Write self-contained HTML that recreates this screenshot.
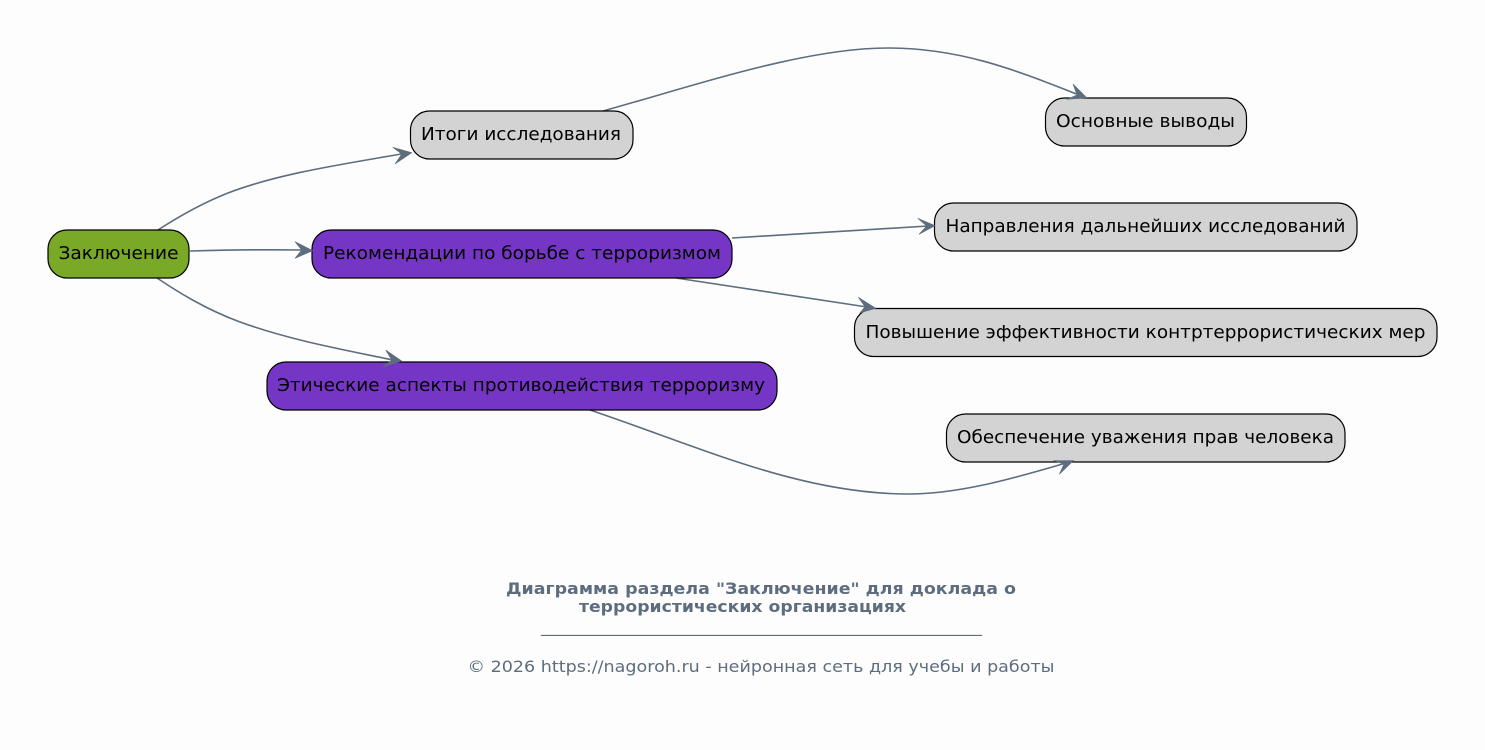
<!DOCTYPE html>
<html><head><meta charset="utf-8"><style>
html,body{margin:0;padding:0;background:#fdfdfd}
svg{display:block}
text{font-family:"DejaVu Sans",sans-serif}
.n{font-size:18px;fill:#000;text-anchor:middle}
.e{fill:none;stroke:#5d6d7e;stroke-width:1.6}
.a{fill:#5d6d7e;stroke:#5d6d7e;stroke-width:.6;stroke-linejoin:miter}
.b{stroke:#000;stroke-width:1.2}
</style></head><body>
<svg width="1485" height="750" viewBox="0 0 1485 750" xmlns="http://www.w3.org/2000/svg">
<rect width="1485" height="750" fill="#fdfdfd"/>
<path class="e" d="M158 230C178 217 200 204 228 193C280 173 345 164 404 153.500"/>
<path class="e" d="M190 251C225 250 265 249.500 304 250"/>
<path class="e" d="M157 278C178 292 205 309 240 322C290 340 340 349 393 360"/>
<path class="e" d="M603 111C700 84 805 48 888 48C963 48 1020 72 1079 95"/>
<path class="e" d="M732 238L928 226"/>
<path class="e" d="M676 278L867 307"/>
<path class="e" d="M590 410C700 447 800 494 908 494C960 494 1015 478 1066 463"/>
<rect class="b" x="48" y="230" width="141" height="48" rx="19" fill="#7aa928"/>
<text class="n" x="118.500" y="259" textLength="120" lengthAdjust="spacingAndGlyphs">Заключение</text>
<rect class="b" x="410.500" y="111" width="222.500" height="48" rx="19" fill="#d3d3d3"/>
<text class="n" x="521" y="140" textLength="200" lengthAdjust="spacingAndGlyphs">Итоги исследования</text>
<rect class="b" x="312" y="230" width="420" height="48" rx="19" fill="#7636c5"/>
<text class="n" x="522" y="259" textLength="398" lengthAdjust="spacingAndGlyphs">Рекомендации по борьбе с терроризмом</text>
<rect class="b" x="267" y="362" width="510" height="48" rx="19" fill="#7636c5"/>
<text class="n" x="521" y="391" textLength="488" lengthAdjust="spacingAndGlyphs">Этические аспекты противодействия терроризму</text>
<rect class="b" x="1045.500" y="98" width="201" height="48" rx="19" fill="#d3d3d3"/>
<text class="n" x="1145.500" y="127" textLength="179" lengthAdjust="spacingAndGlyphs">Основные выводы</text>
<rect class="b" x="934.500" y="203" width="422.500" height="48" rx="19" fill="#d3d3d3"/>
<text class="n" x="1145.500" y="232" textLength="400" lengthAdjust="spacingAndGlyphs">Направления дальнейших исследований</text>
<rect class="b" x="854.500" y="308.500" width="582.500" height="48" rx="19" fill="#d3d3d3"/>
<text class="n" x="1145.500" y="338" textLength="560" lengthAdjust="spacingAndGlyphs">Повышение эффективности контртеррористических мер</text>
<rect class="b" x="946.500" y="414" width="398.500" height="48" rx="19" fill="#d3d3d3"/>
<text class="n" x="1145.500" y="443" textLength="377" lengthAdjust="spacingAndGlyphs">Обеспечение уважения прав человека</text>
<path class="a" d="M411.700 152.700L392.700 147.300L401.700 154L395 164Z"/>
<path class="a" d="M312.700 250.700L295 241.700L301.700 250L295 258.300Z"/>
<path class="a" d="M401.700 361L385.700 350L391.700 360L383 366.700Z"/>
<path class="a" d="M1086.700 97.700L1073 84L1077 95L1066.700 99.300Z"/>
<path class="a" d="M935 225.700L917.700 218.300L926.700 226L919 234.300Z"/>
<path class="a" d="M875.700 308.300L858.300 297.300L865 306.700L860 313Z"/>
<path class="a" d="M1073.500 460.500L1053.300 460.700L1064 464L1059.300 474.300Z"/>
<text x="506" y="594" font-size="16" font-weight="bold" fill="#5d6d7e" textLength="510" lengthAdjust="spacingAndGlyphs">Диаграмма раздела "Заключение" для доклада о</text>
<text x="579" y="612" font-size="16" font-weight="bold" fill="#5d6d7e" textLength="327" lengthAdjust="spacingAndGlyphs">террористических организациях</text>
<text x="541" y="632" font-size="16" fill="#5d6d7e" textLength="441" lengthAdjust="spacingAndGlyphs">_______________________________________________________</text>
<text x="467.500" y="672" font-size="16" fill="#5d6d7e" textLength="587" lengthAdjust="spacingAndGlyphs">© 2026 https://nagoroh.ru - нейронная сеть для учебы и работы</text>
</svg>
</body></html>
